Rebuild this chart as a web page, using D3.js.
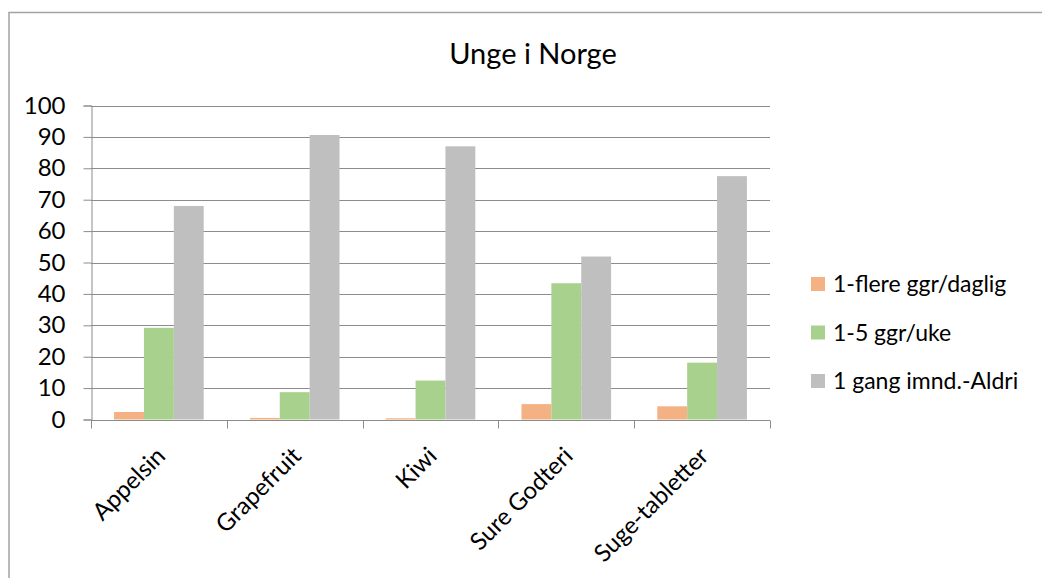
<!DOCTYPE html>
<html>
<head>
<meta charset="utf-8">
<script src="https://cdn.jsdelivr.net/npm/d3@7"></script>
<style>
  html, body { margin: 0; padding: 0; background: #fff; }
  svg { display: block; font-family: "Lato", "Open Sans", sans-serif; }
</style>
</head>
<body>
<svg id="chart" width="1042" height="578"></svg>
<script>
// Categories and the three response series (percent)
const categories = ["Appelsin", "Grapefruit", "Kiwi", "Sure Godteri", "Suge-tabletter"];
const seriesNames = ["1-flere ggr/daglig", "1-5 ggr/uke", "1 gang imnd.-Aldri"];
const dailyValues = [2.4, 0.5, 0.4, 4.9, 4.2];
const weeklyValues = [29.2, 8.7, 12.4, 43.4, 18.1];
const rarelyValues = [68.0, 90.6, 87.0, 51.9, 77.5];
const yTicks = [0, 10, 20, 30, 40, 50, 60, 70, 80, 90, 100];
const colors = ["#F4B183", "#A9D18E", "#BFBFBF"];

const series = [dailyValues, weeklyValues, rarelyValues];

const svg = d3.select("#chart");
const W = 1042, H = 578;

// Outer chart frame (right and bottom edges fall outside the view)
svg.append("rect")
  .attr("x", 9).attr("y", 12.5)
  .attr("width", W + 10).attr("height", H + 10)
  .attr("fill", "none")
  .attr("stroke", "#a3a3a3")
  .attr("stroke-width", 1.5);

const plot = { left: 91, right: 770, top: 105.5, bottom: 419.5 };

const x = d3.scaleBand()
  .domain(categories)
  .range([plot.left, plot.right])
  .paddingInner(0).paddingOuter(0);

const groupPad = 0.17;
const x1 = d3.scaleBand()
  .domain(d3.range(seriesNames.length))
  .range([x.bandwidth() * groupPad, x.bandwidth() * (1 - groupPad)]);

const y = d3.scaleLinear().domain([0, 100]).range([plot.bottom, plot.top]);

// Title
svg.append("text")
  .attr("x", 533).attr("y", 64)
  .attr("text-anchor", "middle")
  .attr("font-size", 29)
  .attr("fill", "#000")
  .text("Unge i Norge");

// Horizontal gridlines
svg.append("g")
  .selectAll("line")
  .data(yTicks)
  .join("line")
  .attr("x1", plot.left).attr("x2", plot.right)
  .attr("y1", d => Math.round(y(d)) + 0.5)
  .attr("y2", d => Math.round(y(d)) + 0.5)
  .attr("stroke", "#8c8c8c")
  .attr("stroke-width", 1);

// Y axis
const yAxis = d3.axisLeft(y).tickValues(yTicks).tickSize(8).tickPadding(18);
const gy = svg.append("g")
  .attr("transform", `translate(${plot.left + 0.5},0)`)
  .call(yAxis);
gy.select(".domain").attr("stroke", "#8c8c8c");
gy.selectAll(".tick line").attr("stroke", "#8c8c8c");
gy.selectAll(".tick text")
  .attr("font-size", 24)
  .attr("font-family", "Lato, 'Open Sans', sans-serif")
  .attr("fill", "#000");

// Bars
const groups = svg.append("g")
  .selectAll("g")
  .data(categories)
  .join("g")
  .attr("transform", d => `translate(${x(d)},0)`);

groups.selectAll("rect")
  .data((c, i) => series.map((s, k) => ({ k, v: s[i] })))
  .join("rect")
  .attr("x", d => x1(d.k))
  .attr("width", x1.bandwidth())
  .attr("y", d => y(d.v))
  .attr("height", d => y(0) - y(d.v))
  .attr("fill", d => colors[d.k]);

// X axis with category ticks at band edges
const gx = svg.append("g")
  .attr("transform", `translate(0,${Math.round(plot.bottom) + 0.5})`);
gx.append("line")
  .attr("x1", plot.left).attr("x2", plot.right)
  .attr("stroke", "#8c8c8c");
const edges = categories.map(c => x(c)).concat([plot.right]);
gx.selectAll("line.tick")
  .data(edges)
  .join("line")
  .attr("class", "tick")
  .attr("x1", d => Math.round(d) + 0.5).attr("x2", d => Math.round(d) + 0.5)
  .attr("y1", 0).attr("y2", 8)
  .attr("stroke", "#8c8c8c");

// Rotated category labels
gx.selectAll("text")
  .data(categories)
  .join("text")
  .attr("transform", d => `translate(${x(d) + x.bandwidth() / 2 + 2},${31}) rotate(-45)`)
  .attr("text-anchor", "end")
  .attr("dy", "0.35em")
  .attr("font-size", 24)
  .attr("fill", "#000")
  .text(d => d);

// Legend
const legend = svg.append("g")
  .selectAll("g")
  .data(seriesNames)
  .join("g")
  .attr("transform", (d, i) => `translate(811,${284 + i * 48.5})`);
legend.append("rect")
  .attr("x", 0).attr("y", -7)
  .attr("width", 14).attr("height", 14)
  .attr("fill", (d, i) => colors[i]);
legend.append("text")
  .attr("x", 22).attr("dy", "0.35em")
  .attr("font-size", 23)
  .attr("fill", "#000")
  .text(d => d);
</script>
</body>
</html>
